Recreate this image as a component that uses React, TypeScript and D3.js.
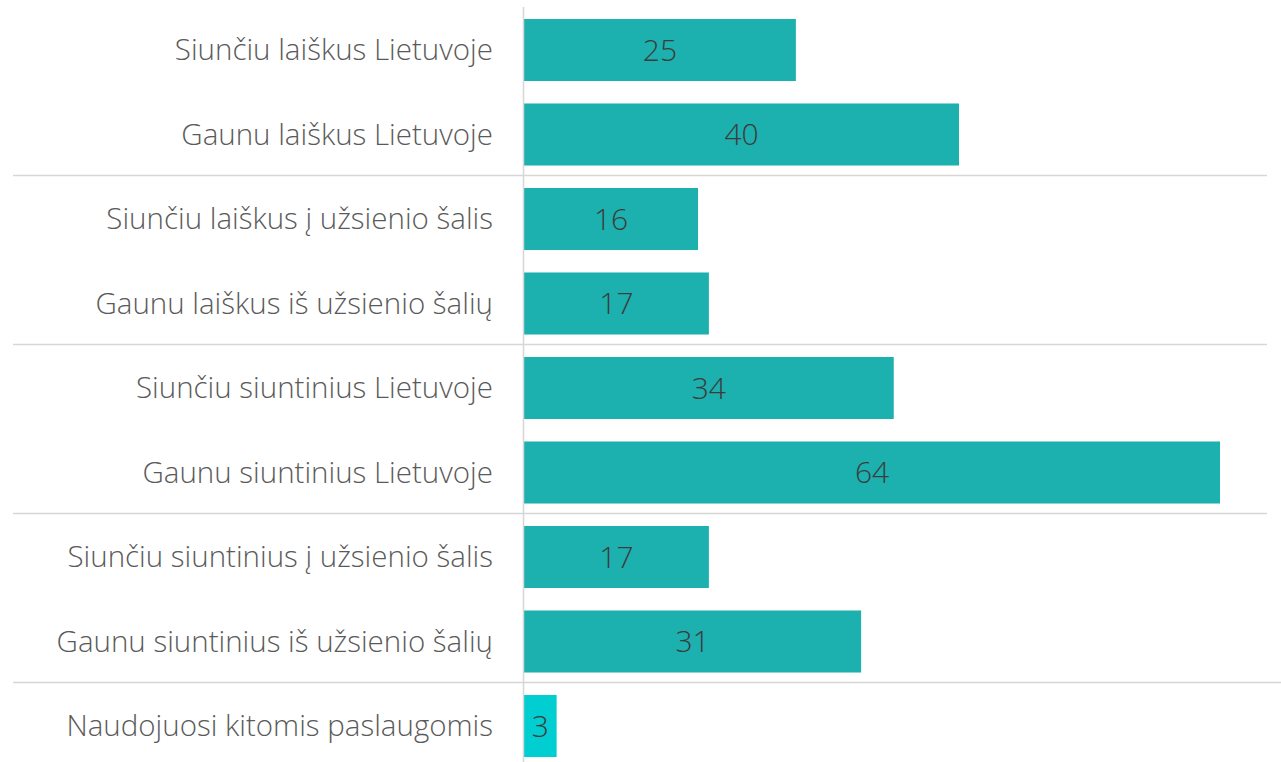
import React from "react";
import * as d3 from "d3";

const categories = [
  "Siunčiu laiškus Lietuvoje",
  "Gaunu laiškus Lietuvoje",
  "Siunčiu laiškus į užsienio šalis",
  "Gaunu laiškus iš užsienio šalių",
  "Siunčiu siuntinius Lietuvoje",
  "Gaunu siuntinius Lietuvoje",
  "Siunčiu siuntinius į užsienio šalis",
  "Gaunu siuntinius iš užsienio šalių",
  "Naudojuosi kitomis paslaugomis",
];
const values = [25, 40, 16, 17, 34, 64, 17, 31, 3];
const groupBreaksAfter = [1, 3, 5, 7];

const W = 1281;
const H = 762;
const axisX = 523.5;
const FONT = "'Segoe UI', 'Open Sans', sans-serif";

export default function App() {
  const x = d3.scaleLinear().domain([0, 64]).range([axisX + 0.5, 1220]);
  const y = d3
    .scaleBand<string>()
    .domain(categories)
    .range([7.75, 768.25])
    .paddingInner(0.266)
    .paddingOuter(0.133);
  const step = y.step();
  return (
    <div style={{ position: "absolute", left: 0, top: 0 }}>
      <svg width={W} height={H} style={{ display: "block", background: "#fff" }}>
        {groupBreaksAfter.map((i) => {
          const yy = Math.floor(y(categories[i])! + y.bandwidth() / 2 + step / 2) - 0.5;
          return (
            <line key={i} x1={13} x2={i === 7 ? W : 1267} y1={yy} y2={yy} stroke="#d6d6d6" strokeWidth={1.5} />
          );
        })}
        {categories.map((c, i) => {
          const yb = y(c)!;
          const cy = yb + y.bandwidth() / 2;
          return (
            <g key={c}>
              <rect
                x={x(0)}
                y={yb}
                width={x(values[i]) - x(0)}
                height={y.bandwidth()}
                fill={i === 8 ? "#00ced1" : "#1cb0ae"}
              />
              <text
                x={(x(0) + x(values[i])) / 2}
                y={cy}
                dy="0.36em"
                textAnchor="middle"
                fontFamily={FONT}
                fontWeight={300}
                fontSize={30}
                fill="#3c3c3c"
              >
                {values[i]}
              </text>
              <text
                x={493}
                y={cy}
                dy="0.35em"
                textAnchor="end"
                fontFamily={FONT}
                fontWeight={300}
                fontSize={29.5}
                fill="#5a5a5a"
              >
                {c}
              </text>
            </g>
          );
        })}
        <line x1={axisX} x2={axisX} y1={7} y2={H} stroke="#d6d6d6" strokeWidth={1.5} />
      </svg>
    </div>
  );
}
